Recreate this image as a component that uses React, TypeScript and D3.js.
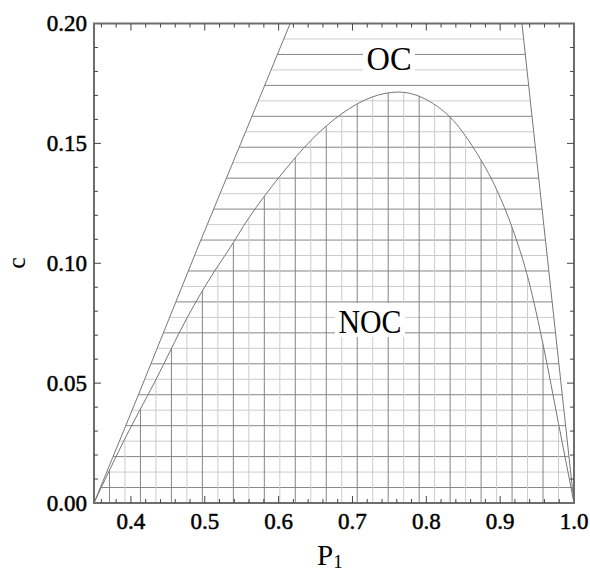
import * as d3 from "d3";

const W = 590;
const H = 573;
const M = { left: 94, right: 16, top: 23.5, bottom: 70 };

// axis
const xDomain = [0.35, 1.0];
const yDomain = [0, 0.2];
const xTickVals = [0.4, 0.5, 0.6, 0.7, 0.8, 0.9, 1.0];
const xTickLabels = ["0.4", "0.5", "0.6", "0.7", "0.8", "0.9", "1.0"];
const yTickVals = [0, 0.05, 0.1, 0.15, 0.2];
const yTickLabels = ["0.00", "0.05", "0.10", "0.15", "0.20"];

// NOC boundary
const nocP = [0.35, 0.3897, 0.4336, 0.4756, 0.514, 0.532, 0.559, 0.601, 0.644, 0.6856, 0.7263, 0.762, 0.8098, 0.832, 0.866, 0.8957, 0.916, 0.9385, 0.9588, 0.979, 1.0];
const nocC = [0, 0.0255, 0.0513, 0.077, 0.0971, 0.1054, 0.1186, 0.136, 0.1513, 0.1624, 0.1693, 0.1714, 0.1665, 0.161, 0.1471, 0.1304, 0.1151, 0.0929, 0.0651, 0.0332, 0];

// OC outer edges
const leftEdgeP = [0.35, 0.41, 0.489, 0.584, 0.6156];
const leftEdgeC = [0, 0.045, 0.1054, 0.1763, 0.2];
const rightEdgeP = [0.9295, 1.0];
const rightEdgeC = [0.2, 0];

const hatchDivs = 31;

export default function App() {
  const iw = W - M.left - M.right;
  const ih = H - M.top - M.bottom;
  const x = d3.scaleLinear().domain(xDomain).range([M.left, M.left + iw]);
  const y = d3.scaleLinear().domain(yDomain).range([M.top + ih, M.top]);

  const pts = (ps: number[], cs: number[]) => ps.map((p, i) => [p, cs[i]] as [number, number]);
  const lin = d3.line<[number, number]>().x((d) => x(d[0])).y((d) => y(d[1]));
  const smooth = d3
    .line<[number, number]>()
    .x((d) => x(d[0]))
    .y((d) => y(d[1]))
    .curve(d3.curveMonotoneX);

  const noc = pts(nocP, nocC);
  const left = pts(leftEdgeP, leftEdgeC);
  const right = pts(rightEdgeP, rightEdgeC);
  const nocPath = smooth(noc) || "";
  const outerPath = (lin([...left, ...right]) || "") + "Z";

  const ks = d3.range(1, hatchDivs);
  const xMinor = d3.range(0.36, 0.999, 0.02);
  const yMinor = d3.range(0.01, 0.2, 0.01);

  const frame = "#6e6e6e";
  const dark = "#858585";
  const light = "#cccccc";
  const font = "'Liberation Serif', 'Times New Roman', serif";
  const x0 = M.left, x1 = M.left + iw, y0 = M.top + ih, y1 = M.top;

  return (
    <svg width={W} height={H} style={{ position: "absolute", left: 0, top: 0, background: "#fff" }}>
      <defs>
        <clipPath id="outer">
          <path d={outerPath} />
        </clipPath>
        <clipPath id="nocClip">
          <path d={nocPath + "Z"} />
        </clipPath>
      </defs>

      {/* hatching */}
      <g clipPath="url(#outer)">
        {ks.map((k) => {
          const yy = y((k * 0.2) / hatchDivs);
          return <line key={k} x1={x0} x2={x1} y1={yy} y2={yy} stroke={k % 2 ? dark : light} strokeWidth={1} />;
        })}
      </g>
      <g clipPath="url(#nocClip)">
        {ks.map((k) => {
          const xx = x(0.35 + (k * 0.65) / hatchDivs);
          return <line key={k} x1={xx} x2={xx} y1={y0} y2={y1} stroke={k % 2 ? dark : light} strokeWidth={1} />;
        })}
      </g>

      {/* boundaries */}
      <path d={nocPath} fill="none" stroke="#777" strokeWidth={1} />
      <path d={lin(left) || ""} fill="none" stroke="#777" strokeWidth={1} />
      <path d={lin(right) || ""} fill="none" stroke="#777" strokeWidth={1} />

      {/* region labels */}
      <rect x={363} y={41} width={52} height={32} fill="#fff" />
      <text x={389} y={70} textAnchor="middle" fontFamily={font} fontSize={34} textLength={45} lengthAdjust="spacingAndGlyphs">OC</text>
      <rect x={335} y={303} width={70} height={34} fill="#fff" />
      <text x={370} y={332.7} textAnchor="middle" fontFamily={font} fontSize={34} textLength={63} lengthAdjust="spacingAndGlyphs">NOC</text>

      {/* frame */}
      <rect x={x0} y={y1} width={iw} height={ih} fill="none" stroke={frame} strokeWidth={2} />

      {/* ticks */}
      <g stroke="#444" strokeWidth={1}>
        {xMinor.map((v, i) => {
          const xx = x(v);
          const major = xTickVals.some((t) => Math.abs(t - v) < 1e-6);
          const len = major ? 7 : 4;
          return (
            <g key={i}>
              <line x1={xx} x2={xx} y1={y0} y2={y0 - len} />
              <line x1={xx} x2={xx} y1={y1} y2={y1 + len} />
            </g>
          );
        })}
        {yMinor.map((v, i) => {
          const yy = y(v);
          const major = yTickVals.some((t) => Math.abs(t - v) < 1e-6);
          const len = major ? 7 : 4;
          return (
            <g key={i}>
              <line x1={x0} x2={x0 + len} y1={yy} y2={yy} />
              <line x1={x1} x2={x1 - len} y1={yy} y2={yy} />
            </g>
          );
        })}
      </g>

      {/* tick labels */}
      <g fontFamily={font} fontSize={23} fill="#000" stroke="#000" strokeWidth={0.5}>
        {xTickVals.map((v, i) => (
          <text key={i} x={x(v)} y={y0 + 26} textAnchor="middle">
            {xTickLabels[i]}
          </text>
        ))}
        {yTickVals.map((v, i) => (
          <text key={i} x={x0 - 7} y={y(v) + 7.5} textAnchor="end">
            {yTickLabels[i]}
          </text>
        ))}
      </g>

      {/* axis titles */}
      <text x={317} y={565} fontFamily={font} fontSize={29}>
        P<tspan fontSize={19} dy={3}>1</tspan>
      </text>
      <text transform={`translate(25,263) rotate(-90)`} textAnchor="middle" fontFamily={font} fontSize={26}>
        c
      </text>
    </svg>
  );
}
